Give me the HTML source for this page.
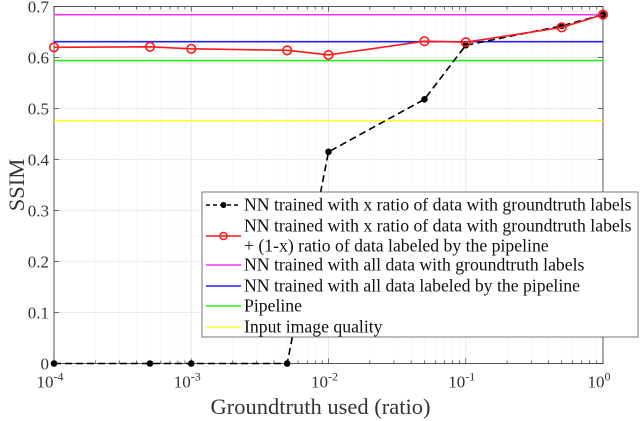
<!DOCTYPE html>
<html><head><meta charset="utf-8">
<style>
html,body{margin:0;padding:0;background:#fff;}
svg{display:block;font-family:"Liberation Serif",serif;}
</style></head>
<body>
<svg id="chart" width="640" height="421" viewBox="0 0 640 421"></svg>
<script>
const xValues = [1e-4, 5e-4, 1e-3, 5e-3, 1e-2, 5e-2, 1e-1, 5e-1, 1];
const gtOnly = [0, 0, 0, 0, 0.415, 0.518, 0.624, 0.662, 0.684];
const mixed = [0.620, 0.621, 0.617, 0.614, 0.605, 0.632, 0.630, 0.659, 0.684];
const refNames = ["all-gt", "all-pipeline", "pipeline", "input-quality"];
const refValues = [0.684, 0.631, 0.594, 0.476];
const refColors = ["#ff33ff", "#2222ff", "#22ee22", "#ffff22"];
const yTicks = [0, 0.1, 0.2, 0.3, 0.4, 0.5, 0.6, 0.7];
const yTickLabels = ["0", "0.1", "0.2", "0.3", "0.4", "0.5", "0.6", "0.7"];
const xDecades = [-4, -3, -2, -1, 0];

const L = 54, R = 603, T = 6.5, B = 363.5;
const NS = "http://www.w3.org/2000/svg";
const svg = document.getElementById('chart');
function sx(v){ return L + (Math.log10(v) + 4) / 4 * (R - L); }
function sy(v){ return B - v / 0.7 * (B - T); }
function mk(tag, attrs, parent){
  const e = document.createElementNS(NS, tag);
  for (const k in attrs) e.setAttribute(k, attrs[k]);
  (parent || svg).appendChild(e);
  return e;
}

const grid = mk('g', {});


for (const d of xDecades) {
  for (let m = 1; m <= 9; m++) {
    if (d === 0 && m > 1) break;
    const x = sx(m * Math.pow(10, d));
    mk('line', {x1:x, x2:x, y1:T, y2:B, stroke: m===1 ? '#e4e4e4' : '#ececec', 'stroke-width':0.8, 'stroke-dasharray': m===1 ? '' : '1.5,2.5'}, grid);
    mk('line', {x1:x, x2:x, y1:B, y2:B-(m===1?5:3), stroke:'#333', 'stroke-width':0.7}, grid);
    mk('line', {x1:x, x2:x, y1:T, y2:T+(m===1?5:3), stroke:'#333', 'stroke-width':0.7}, grid);
  }
}
for (const t of yTicks) {
  const y = sy(t);
  mk('line', {x1:L, x2:R, y1:y, y2:y, stroke:'#e4e4e4', 'stroke-width':0.8}, grid);
  mk('line', {x1:L, x2:L+5, y1:y, y2:y, stroke:'#333', 'stroke-width':0.7}, grid);
  mk('line', {x1:R, x2:R-5, y1:y, y2:y, stroke:'#333', 'stroke-width':0.7}, grid);
}

const box = mk('rect', {x:L, y:T, width:R-L, height:B-T, fill:'none', stroke:'#333', 'stroke-width':0.8});



yTicks.forEach((t, i) => {
  const tx = mk('text', {x:L-5, y:sy(t)+6, 'text-anchor':'end', 'font-size':17, fill:'#333'});
  tx.textContent = yTickLabels[i];
  
  
});
xDecades.forEach(d => {
  const tx = mk('text', {x:sx(Math.pow(10,d))-4, y:B+24, 'text-anchor':'middle', 'font-size':17, fill:'#333'});
  tx.textContent = '10';
  const sup = mk('tspan', {dy:-7, 'font-size':12}, tx);
  sup.textContent = String(d);
  
  
});

const xt = mk('text', {x:(L+R)/2-8, y:414, 'text-anchor':'middle', 'font-size':22.5, fill:'#333'});
xt.textContent = 'Groundtruth used (ratio)';


const yt = mk('text', {x:0, y:0, 'text-anchor':'middle', 'font-size':22.5, fill:'#333', transform:'translate(24,'+((T+B)/2)+') rotate(-90)'});
yt.textContent = 'SSIM';



refValues.forEach((v, i) => {
  const ln = mk('line', {x1:L, x2:R, y1:sy(v), y2:sy(v), stroke:refColors[i], 'stroke-width':1.6});
  
  
});

const pb = mk('polyline', {points: xValues.map((x,i)=>sx(x)+','+sy(gtOnly[i])).join(' '), fill:'none', stroke:'#000', 'stroke-width':1.6, 'stroke-dasharray':'7,4'});


xValues.forEach((x,i) => {
  const c = mk('circle', {cx:sx(x), cy:sy(gtOnly[i]), r:3.3, fill:'#000'});
  
  
});
const pr = mk('polyline', {points: xValues.map((x,i)=>sx(x)+','+sy(mixed[i])).join(' '), fill:'none', stroke:'#ff1a1a', 'stroke-width':1.6});


xValues.forEach((x,i) => {
  const c = mk('circle', {cx:sx(x), cy:sy(mixed[i]), r:4.3, fill:'none', stroke:'#ff1a1a', 'stroke-width':1.6});
  
  
});

const lg = mk('g', {});


mk('rect', {x:202, y:192, width:436, height:145, fill:'#fff', stroke:'#555', 'stroke-width':0.8}, lg);
const entries = [
  {y:205, lines:['NN trained with x ratio of data with groundtruth labels'], color:'#000', dash:'4,3', marker:'dot'},
  {y:226, lines:['NN trained with x ratio of data with groundtruth labels','+ (1-x) ratio of data labeled by the pipeline'], color:'#ff1a1a', dash:'', marker:'ring'},
  {y:265, lines:['NN trained with all data with groundtruth labels'], color:refColors[0]},
  {y:286, lines:['NN trained with all data labeled by the pipeline'], color:refColors[1]},
  {y:306, lines:['Pipeline'], color:refColors[2]},
  {y:327, lines:['Input image quality'], color:refColors[3]}
];
entries.forEach(e => {
  const g = mk('g', {}, lg);
  
  
  const ly = e.lines.length > 1 ? e.y + 10 : e.y;
  mk('line', {x1:206, x2:241, y1:ly, y2:ly, stroke:e.color, 'stroke-width':1.5, 'stroke-dasharray':e.dash||''}, g);
  if (e.marker === 'dot') mk('circle', {cx:223.5, cy:ly, r:3, fill:'#000'}, g);
  if (e.marker === 'ring') mk('circle', {cx:223.5, cy:ly, r:3.5, fill:'none', stroke:e.color, 'stroke-width':1.5}, g);
  e.lines.forEach((t, k) => {
    const tx = mk('text', {x:244, y:e.y + 5.5 + k*20, 'font-size':17.7, fill:'#111'}, g);
    tx.textContent = t;
  });
});
</script>
</body></html>
